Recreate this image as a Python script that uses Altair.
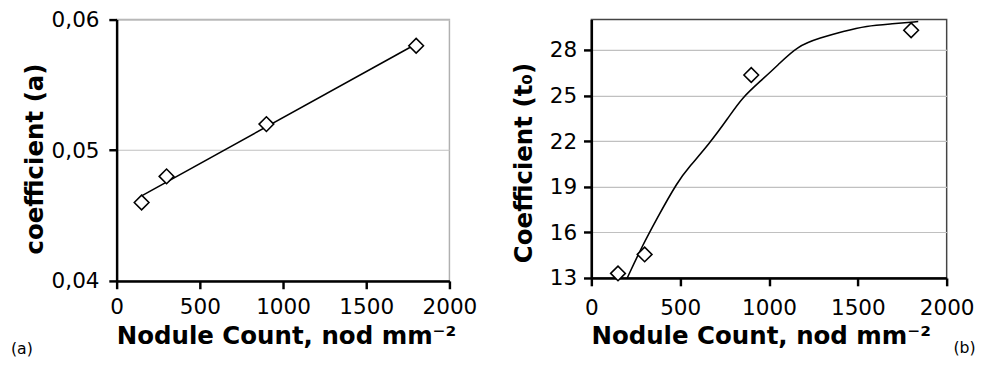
import altair as alt
import pandas as pd

FONT = "DejaVu Sans"

# ---- Panel (a) data ----
a_x = [150, 300, 900, 1800]
a_y = [0.046, 0.048, 0.052, 0.058]
a_yticks = [0.04, 0.05, 0.06]

# ---- Panel (b) data ----
b_x = [150, 300, 900, 1800]
b_y = [13.3, 14.55, 26.35, 29.3]
# fitted curve
bc_x = [202, 276, 368, 487, 552, 662, 772, 846, 956, 1048, 1160, 1289, 1418, 1547, 1693, 1840]
bc_y = [13.0, 14.86, 16.9, 19.37, 20.33, 21.8, 23.55, 24.83, 26.0, 26.98, 28.27, 28.8, 29.23, 29.59, 29.72, 29.87]
b_yticks = [13, 16, 19, 22, 25, 28]

x_ticks = [0, 500, 1000, 1500, 2000]
label_a = ["(a)"]
label_b = ["(b)"]
x_title = "Nodule Count, nod mm\u207b\u00b2"

df_a = pd.DataFrame({"x": a_x, "y": a_y})
df_b = pd.DataFrame({"x": b_x, "y": b_y})
df_bc = pd.DataFrame({"x": bc_x, "y": bc_y})

axis_common = dict(
    domainColor="black", domainWidth=2.5, tickColor="black", tickWidth=2.5, tickSize=8,
    labelFont=FONT, labelFontSize=22, labelColor="black",
    titleFont=FONT, titleFontSize=25, titleFontWeight="bold", titleColor="black",
    gridColor="#c0c0c0", gridWidth=1.2, labelFlush=False, labelOverlap=False,
)

# ---------- Panel (a) ----------
xa = alt.X("x:Q", scale=alt.Scale(domain=[0, 2000], nice=False),
           axis=alt.Axis(values=x_ticks, format="d", title=x_title, grid=False, labelPadding=8,
                         titleBaseline="alphabetic", titleY=64, titleX=173, **axis_common))
ya = alt.Y("y:Q", scale=alt.Scale(domain=[0.04, 0.06], nice=False, zero=False),
           axis=alt.Axis(values=a_yticks, title="coefficient (a)", grid=True, labelPadding=10,
                         labelExpr="replace(format(datum.value, '.2f'), '.', ',')",
                         titleBaseline="alphabetic", titleX=-76, titleY=142, **axis_common))

base_a = alt.Chart(df_a)
fit_a = base_a.transform_regression("x", "y", extent=[150, 1800]).mark_line(
    color="black", strokeWidth=1.6).encode(x=xa, y=ya)
pts_a = base_a.mark_point(shape="diamond", size=225, filled=True, fill="white",
                          stroke="black", strokeWidth=1.6, opacity=1).encode(x=xa, y=ya)
txt_a = alt.Chart(pd.DataFrame({"t": label_a})).mark_text(
    align="left", baseline="middle", font=FONT, fontSize=16, color="black"
).encode(x=alt.value(-108), y=alt.value(337), text="t:N")

panel_a = alt.layer(fit_a, pts_a, txt_a).properties(
    width=340, height=267, view=alt.ViewBackground(stroke="#b0b0b0", strokeWidth=1.5))

# ---------- Panel (b) ----------
xb = alt.X("x:Q", scale=alt.Scale(domain=[0, 2000], nice=False),
           axis=alt.Axis(values=x_ticks, format="d", title=x_title, grid=False, labelPadding=12,
                         titleBaseline="alphabetic", titleY=67, titleX=173, **axis_common))
yb = alt.Y("y:Q", scale=alt.Scale(domain=[13, 30], nice=False, zero=False),
           axis=alt.Axis(values=b_yticks, title="Coefficient (t\u2080)", grid=True, labelPadding=7,
                         titleBaseline="alphabetic", titleX=-61, titleY=146, **axis_common))

curve_b = alt.Chart(df_bc).mark_line(color="black", strokeWidth=1.6, interpolate="basis").encode(x=xb, y=yb)
pts_b = alt.Chart(df_b).mark_point(shape="diamond", size=225, filled=True, fill="white",
                                   stroke="black", strokeWidth=1.6, opacity=1).encode(x=xb, y=yb)
txt_b = alt.Chart(pd.DataFrame({"t": label_b})).mark_text(
    align="left", baseline="middle", font=FONT, fontSize=16, color="black"
).encode(x=alt.value(370), y=alt.value(336), text="t:N")

panel_b = alt.layer(curve_b, pts_b, txt_b).properties(
    width=363, height=264, view=alt.ViewBackground(stroke="#444444", strokeWidth=1.5))

chart = alt.hconcat(panel_a, panel_b, spacing=34).properties(
    padding={"left": 2, "top": -4, "right": 0, "bottom": 0}
).configure_view(stroke=None)

chart.save("out.html", embed_options={"renderer": "svg", "actions": False})
